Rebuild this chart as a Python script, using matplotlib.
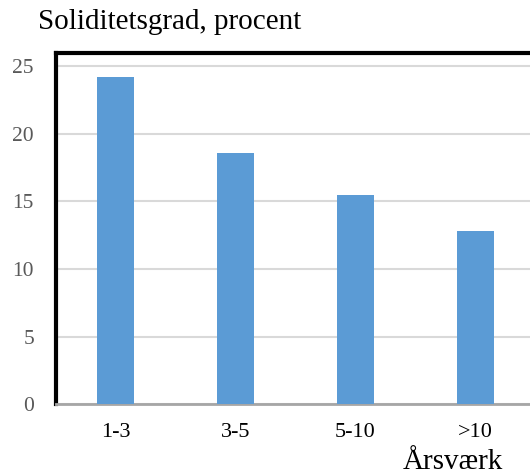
import matplotlib
matplotlib.use("Agg")
import matplotlib.pyplot as plt

categories = ["1-3", "3-5", "5-10", ">10"]
values = [24.2, 18.6, 15.5, 12.8]
yticks = [0, 5, 10, 15, 20, 25]

plt.rcParams['font.family'] = ['Liberation Serif', 'DejaVu Serif']

W, H = 530, 476
fig = plt.figure(figsize=(W / 100, H / 100), dpi=100)
left, right, bottom, top = 55.5, 535.5, 404, 53
ax = fig.add_axes([left / W, (H - bottom) / H, (right - left) / W, (bottom - top) / H])

x = range(len(categories))
ax.bar(x, values, width=0.31, color="#5B9BD5", zorder=3)
ax.set_xlim(-0.5, len(categories) - 0.5)
ax.set_ylim(0, 26)
ax.set_yticks(yticks)
ax.set_xticks(list(x))
ax.set_xticklabels(categories)
ax.yaxis.grid(True, color="#D9D9D9", linewidth=1.5, zorder=0)
ax.set_axisbelow(True)
ax.tick_params(axis="y", length=0, pad=15.5, labelsize=15.5, labelcolor="#595959")
ax.tick_params(axis="x", length=0, pad=14, labelsize=16, labelcolor="black")
ax.spines["top"].set_color("black")
ax.spines["top"].set_linewidth(3)
ax.spines["left"].set_color("black")
ax.spines["left"].set_linewidth(3)
ax.spines["right"].set_visible(False)
ax.spines["bottom"].set_color("#A6A6A6")
ax.spines["bottom"].set_linewidth(2)

fig.text(38 / W, 1 - 22 / H, "Soliditetsgrad, procent", fontsize=21, va="center", ha="left", color="black")
fig.text(453 / W, 1 - 475 / H, "Årsværk", fontsize=21, va="bottom", ha="center", color="black")

fig.savefig("out.png", dpi=100)
